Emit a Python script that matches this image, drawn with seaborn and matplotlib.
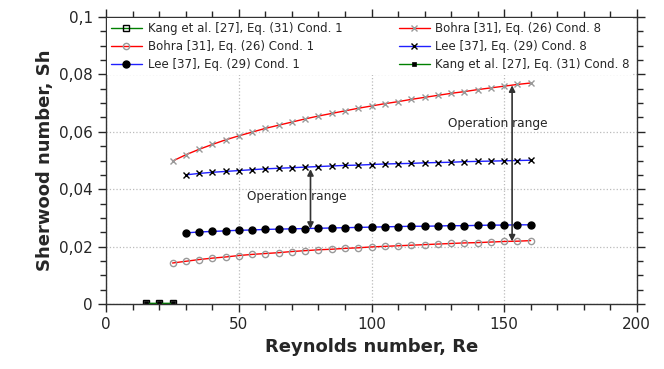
import seaborn as sns
import matplotlib.pyplot as plt
from matplotlib.ticker import MultipleLocator, FuncFormatter

# Reynolds numbers
re_kang = [15, 20, 25]
re_bohra = [25, 30, 35, 40, 45, 50, 55, 60, 65, 70, 75, 80, 85, 90, 95, 100,
            105, 110, 115, 120, 125, 130, 135, 140, 145, 150, 155, 160]
re_lee = re_bohra[1:]

# Sherwood numbers
sh_kang_1 = [0.0005, 0.0005, 0.0005]
sh_kang_8 = [0.0005, 0.0005, 0.0005]
sh_bohra_1 = [0.0143, 0.0149, 0.0155, 0.0160, 0.0164, 0.0169, 0.0173, 0.0176,
              0.0179, 0.0183, 0.0186, 0.0189, 0.0191, 0.0194, 0.0196, 0.0199,
              0.0201, 0.0203, 0.0205, 0.0207, 0.0209, 0.0211, 0.0213, 0.0214,
              0.0216, 0.0218, 0.0219, 0.0221]
sh_bohra_8 = [0.0498, 0.0520, 0.0539, 0.0556, 0.0572, 0.0586, 0.0599, 0.0612,
              0.0623, 0.0634, 0.0645, 0.0655, 0.0664, 0.0673, 0.0682, 0.0690,
              0.0698, 0.0705, 0.0713, 0.0720, 0.0727, 0.0734, 0.0740, 0.0747,
              0.0753, 0.0759, 0.0765, 0.0770]
sh_lee_1 = [0.0248, 0.0251, 0.0253, 0.0255, 0.0257, 0.0258, 0.0260, 0.0261,
            0.0262, 0.0263, 0.0264, 0.0265, 0.0266, 0.0267, 0.0268, 0.0269,
            0.0270, 0.0271, 0.0271, 0.0272, 0.0273, 0.0273, 0.0274, 0.0275,
            0.0275, 0.0276, 0.0276]
sh_lee_8 = [0.0450, 0.0455, 0.0459, 0.0462, 0.0465, 0.0468, 0.0471, 0.0473,
            0.0475, 0.0477, 0.0479, 0.0481, 0.0483, 0.0484, 0.0486, 0.0488,
            0.0489, 0.0490, 0.0492, 0.0493, 0.0494, 0.0496, 0.0497, 0.0498,
            0.0499, 0.0500, 0.0501]

sns.set_style("ticks")
plt.rcParams['font.family'] = ['DejaVu Sans']

fig = plt.figure(figsize=(6.64, 3.69), dpi=100)
ax = fig.add_axes([0.16, 0.176, 0.799, 0.778])

series = [
    (re_kang, sh_kang_1, 'Kang et al. [27], Eq. (31) Cond. 1', 'green',
     dict(marker='s', markersize=4.5, markerfacecolor='none', markeredgecolor='black', markeredgewidth=1)),
    (re_bohra, sh_bohra_1, 'Bohra [31], Eq. (26) Cond. 1', 'red',
     dict(marker='o', markersize=4.5, markerfacecolor='none', markeredgecolor='#999999', markeredgewidth=1)),
    (re_lee, sh_lee_1, 'Lee [37], Eq. (29) Cond. 1', '#2020ff',
     dict(marker='o', markersize=5, markerfacecolor='black', markeredgecolor='black', markeredgewidth=1)),
    (re_bohra, sh_bohra_8, 'Bohra [31], Eq. (26) Cond. 8', 'red',
     dict(marker='x', markersize=4.5, markerfacecolor='none', markeredgecolor='#999999', markeredgewidth=1)),
    (re_lee, sh_lee_8, 'Lee [37], Eq. (29) Cond. 8', '#2020ff',
     dict(marker='x', markersize=4.5, markerfacecolor='none', markeredgecolor='black', markeredgewidth=1)),
    (re_kang, sh_kang_8, 'Kang et al. [27], Eq. (31) Cond. 8', 'green',
     dict(marker='s', markersize=2.5, markerfacecolor='black', markeredgecolor='black', markeredgewidth=0.5)),
]

for x, y, label, color, mk in series:
    sns.lineplot(x=x, y=y, ax=ax, color=color, linewidth=1, label=label, **mk)

# operation range arrows
arrow_style = dict(arrowstyle='<|-|>', color='#333333', lw=1.2, mutation_scale=9,
                   shrinkA=0, shrinkB=0)
ax.annotate('', xy=(77, 0.0262), xytext=(77, 0.0470), arrowprops=arrow_style)
ax.annotate('', xy=(153, 0.0218), xytext=(153, 0.0762), arrowprops=arrow_style)
ax.text(53, 0.0373, 'Operation range', fontsize=8.7, va='center', ha='left')
ax.text(129, 0.0628, 'Operation range', fontsize=8.7, va='center', ha='left')

ax.set_xlim(0, 200)
ax.set_ylim(0, 0.1)
ax.xaxis.set_major_locator(MultipleLocator(50))
ax.xaxis.set_minor_locator(MultipleLocator(10))
ax.yaxis.set_major_locator(MultipleLocator(0.02))
ax.yaxis.set_minor_locator(MultipleLocator(0.005))
ax.yaxis.set_major_formatter(FuncFormatter(lambda v, p: f"{v:g}".replace('.', ',')))

ax.tick_params(which='both', direction='out', top=True, right=True, labelsize=11, width=1)
ax.tick_params(which='major', length=6)
ax.tick_params(which='minor', length=4)
ax.grid(True, which='major', linestyle=':', color='#bbbbbb', linewidth=0.9)
for s in ax.spines.values():
    s.set_color('#333333')
    s.set_linewidth(1)

ax.set_xlabel('Reynolds number, Re', fontsize=13, fontweight='bold')
ax.set_ylabel('Sherwood number, Sh', fontsize=13, fontweight='bold')

leg = ax.legend(loc='upper left', bbox_to_anchor=(0.0, 1.0), ncol=2, fontsize=8.5,
                frameon=True, fancybox=False, framealpha=1, edgecolor='white',
                handlelength=2.6, handletextpad=0.5, columnspacing=4.8,
                labelspacing=0.45, borderpad=0.3, borderaxespad=0.1)
leg.get_frame().set_linewidth(0)

fig.savefig('out.png', dpi=100)
